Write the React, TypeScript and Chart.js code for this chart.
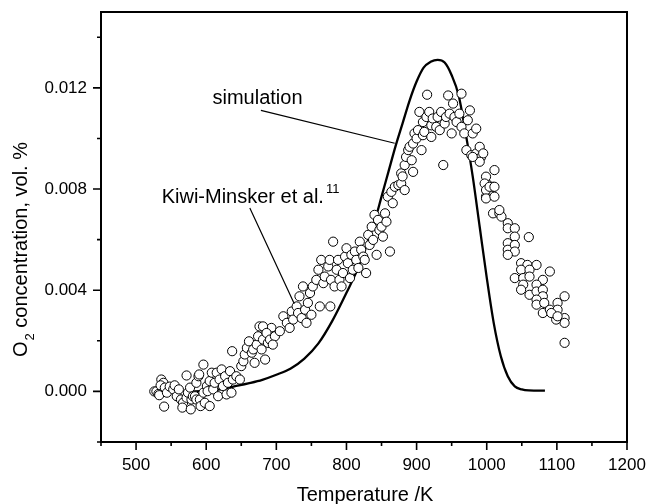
import React, { useEffect, useRef } from "react";
import { Chart, registerables } from "chart.js";

Chart.register(...registerables);

const FONT = '"Liberation Sans", Arial, Helvetica, sans-serif';

// Axis ranges and tick labels
const X_MIN = 450;
const X_MAX = 1200;
const Y_MIN = -0.002;
const Y_MAX = 0.015;
const xTickLabels = [500, 600, 700, 800, 900, 1000, 1100, 1200];
const yTickLabels = [0, 0.004, 0.008, 0.012];

// Experimental data (Kiwi-Minsker et al.) — temperature /K
const expT = [
  526, 529, 532, 533, 536, 539, 535, 541, 544, 540, 548, 553, 555, 558, 561, 564, 567, 566, 572, 572,
  574, 577, 578, 579, 581, 584, 586, 586, 589, 590, 591, 592, 596, 596, 598, 601, 602, 605, 605, 608,
  610, 612, 615, 617, 619, 622, 624, 627, 629, 631, 634, 636, 638, 637, 643, 648, 650, 653, 655, 658,
  661, 665, 667, 669, 672, 674, 676, 679, 681, 684, 686, 688, 693, 695,
  681, 686, 691, 698, 695, 705, 710, 715, 719, 722, 724, 729, 731, 733, 736, 738, 741, 743, 745, 748,
  750, 752, 757, 760, 762, 764, 767, 769, 774, 776, 777, 778, 781, 783, 786, 788, 790, 793, 795, 798,
  800, 802, 805, 807, 809, 812, 814, 817, 819, 821, 824, 826, 828, 831, 833, 836, 838, 840, 843, 845,
  847, 850, 852, 855, 857, 862, 859, 864, 866, 869, 874, 878, 883, 878, 883, 880,
  885, 888, 890, 893, 895, 895, 897, 900, 902, 904, 907, 909, 909, 911, 914, 915, 918, 921, 921, 923,
  928, 930, 933, 935, 938, 940, 942, 945, 947, 950, 952, 954, 957, 961, 964, 964, 968, 971, 973, 976,
  978, 980, 985, 985, 990, 992, 995, 990, 999, 1002, 1004, 1009, 999, 1011, 1009, 1018,
  980, 997, 999, 1004, 1011, 999, 1011, 1021, 1030, 1030, 1040, 1040, 1030, 1030, 1040, 1040, 1030, 1060,
  1049, 1058, 1071, 1049, 1061, 1090, 1040, 1052, 1061, 1080, 1052, 1071, 1049, 1061, 1071, 1080, 1080,
  1071, 1071, 1082, 1080, 1090, 1101, 1111, 1101, 1111, 1111, 1099, 1092, 1111, 1101, 1018,
];

// Experimental O2 concentration, vol. %
const expO2 = [
  0.0, 0.0, -0.0001, -0.00015, 0.00047, 0.00034, 0.00024, 0.00015, -0.00005, -0.0006, 0.00019, 0.00008, 0.00024, -0.00019, 0.00008, -0.00032, -0.00045, -0.00064, 0.00063, -0.00025,
  -0.00005, 0.00015, -0.00071, -0.00032, -0.00019, -0.00019, 0.00034, -0.00032, 0.0006, 0.00067, -0.00032, -0.00058, 0.00106, -0.00005, -0.00045, 0.00021, 0.00001, -0.00058, 0.00041, 0.00074,
  0.00008, 0.00034, 0.00074, -0.00019, 0.00047, 0.00087, 0.00021, 0.0006, -0.00012, 0.00034, 0.0008, -0.00005, 0.00047, 0.00159, 0.0006, 0.00047, 0.001, 0.00119, 0.00146, 0.00172,
  0.00198, 0.00153, 0.00166, 0.00113, 0.00185, 0.00218, 0.00257, 0.00166, 0.00205, 0.00126, 0.00238, 0.00192, 0.00251, 0.00218,
  0.00257, 0.00231, 0.00205, 0.00218, 0.00185, 0.00238, 0.00297, 0.00271, 0.00251, 0.00316, 0.00284, 0.00336, 0.0031, 0.00376, 0.0029, 0.00415, 0.00323, 0.00271, 0.0035, 0.00389,
  0.00303, 0.00415, 0.00441, 0.00481, 0.00336, 0.0052, 0.00428, 0.00454, 0.00494, 0.0052, 0.00336, 0.00441, 0.00592, 0.00415, 0.00481, 0.0052, 0.00441, 0.00415, 0.00468, 0.00533,
  0.00566, 0.00507, 0.00448, 0.0054, 0.00481, 0.00553, 0.0052, 0.00488, 0.00592, 0.0056, 0.00533, 0.0052, 0.00468, 0.00619, 0.00579, 0.00651, 0.00599, 0.00698, 0.0054, 0.00678,
  0.00638, 0.00651, 0.00612, 0.00704, 0.00671, 0.00553, 0.0077, 0.00789, 0.00744, 0.00809, 0.00816, 0.00822, 0.00796, 0.00862, 0.00895, 0.0085,
  0.00927, 0.00954, 0.00967, 0.00914, 0.00868, 0.0098, 0.0102, 0.01, 0.01033, 0.01105, 0.00954, 0.01065, 0.01013, 0.01026, 0.01085, 0.01173, 0.01105, 0.01052, 0.01006, 0.01079,
  0.01046, 0.01085, 0.01033, 0.01105, 0.00895, 0.01059, 0.01085, 0.0117, 0.01098, 0.0102, 0.01138, 0.01085, 0.01065, 0.01098, 0.01177, 0.01046, 0.0102, 0.00954, 0.01072, 0.01111,
  0.00934, 0.0102, 0.01039, 0.00941, 0.00967, 0.00927, 0.00941, 0.00908, 0.00849, 0.00816, 0.00796, 0.00809, 0.0077, 0.00875, 0.00704, 0.00704,
  0.00927, 0.00822, 0.00796, 0.00809, 0.00809, 0.00763, 0.0077, 0.00691, 0.00665, 0.00645, 0.00645, 0.00612, 0.00586, 0.0056, 0.00579, 0.00553, 0.0054, 0.0061,
  0.00507, 0.005, 0.005, 0.00481, 0.00481, 0.00474, 0.00448, 0.00448, 0.00454, 0.00441, 0.00422, 0.00422, 0.00402, 0.00382, 0.00395, 0.00402, 0.00376,
  0.00363, 0.00343, 0.0035, 0.0031, 0.00323, 0.0035, 0.00376, 0.00323, 0.0029, 0.00271, 0.00284, 0.0031, 0.00192, 0.00297, 0.00717,
];

// Simulation curve
const simT = [
  575, 600, 620, 640, 660, 680, 700, 720, 740, 760, 780, 800, 820, 830, 840, 850, 860, 870, 880, 890,
  900, 910, 920, 930, 940, 950, 960, 970, 980, 990, 1000, 1010, 1020, 1030, 1040, 1050, 1060, 1083,
];
const simO2 = [
  0.0, 0.00002, 0.00008, 0.0002, 0.00032, 0.00046, 0.00066, 0.0009, 0.0013, 0.0019, 0.0028, 0.0039, 0.0051, 0.0059, 0.0067, 0.0077, 0.0087, 0.0097, 0.0106, 0.0115,
  0.01225, 0.0128, 0.01303, 0.01311, 0.013, 0.0125, 0.0117, 0.0102, 0.0085, 0.0065, 0.0045, 0.0027, 0.0014, 0.0006, 0.0002, 0.00008, 0.00004, 0.00003,
];

// Annotation anchors (data coordinates)
const simLabel = { text: "simulation", x: 609, y: 0.01137 };
const simLeader = [[678, 0.01111], [868.8, 0.00981]];
const kiwiLabel = { text: "Kiwi-Minsker et al.", sup: "11", x: 536.5, y: 0.00744 };
const kiwiLeader = [[662.2, 0.00725], [725.6, 0.00347]];

const zeroPadding = (s: any) => {
  s.paddingLeft = 0;
  s.paddingRight = 0;
  s.paddingTop = 0;
  s.paddingBottom = 0;
};

const decorPlugin = {
  id: "decor",
  afterDraw(chart: any) {
    const { ctx, chartArea: a } = chart;
    const xs = chart.scales.x;
    const ys = chart.scales.y;
    ctx.save();
    ctx.strokeStyle = "#000";
    ctx.fillStyle = "#000";

    // frame
    ctx.lineWidth = 2;
    ctx.strokeRect(a.left, a.top, a.right - a.left, a.bottom - a.top);

    // ticks
    ctx.lineWidth = 1.6;
    ctx.beginPath();
    for (let i = 0; i <= 15; i++) {
      const v = X_MIN + i * 50;
      const px = xs.getPixelForValue(v);
      const len = v % 100 === 0 ? 8 : 4;
      ctx.moveTo(px, a.bottom);
      ctx.lineTo(px, a.bottom + len);
    }
    for (let i = -1; i <= 7; i++) {
      const v = i * 0.002;
      const py = ys.getPixelForValue(v);
      const len = i % 2 === 0 ? 8 : 4;
      ctx.moveTo(a.left, py);
      ctx.lineTo(a.left - len, py);
    }
    ctx.stroke();

    // leader lines
    ctx.lineWidth = 1.2;
    ctx.beginPath();
    for (const ld of [simLeader, kiwiLeader]) {
      ctx.moveTo(xs.getPixelForValue(ld[0][0]), ys.getPixelForValue(ld[0][1]));
      ctx.lineTo(xs.getPixelForValue(ld[1][0]), ys.getPixelForValue(ld[1][1]));
    }
    ctx.stroke();

    // annotation texts
    ctx.textBaseline = "alphabetic";
    ctx.textAlign = "left";
    ctx.font = `20px ${FONT}`;
    ctx.fillText(simLabel.text, xs.getPixelForValue(simLabel.x), ys.getPixelForValue(simLabel.y));
    const kx = xs.getPixelForValue(kiwiLabel.x);
    const ky = ys.getPixelForValue(kiwiLabel.y);
    ctx.fillText(kiwiLabel.text, kx, ky);
    const kw = ctx.measureText(kiwiLabel.text).width;
    ctx.font = `13px ${FONT}`;
    ctx.fillText(kiwiLabel.sup, kx + kw + 2, ky - 10.5);

    // x axis title
    ctx.font = `20px ${FONT}`;
    ctx.textAlign = "center";
    ctx.textBaseline = "middle";
    ctx.fillText("Temperature /K", (a.left + a.right) / 2 + 1, 495);

    // y axis title
    ctx.translate(27, 357);
    ctx.rotate(-Math.PI / 2);
    ctx.textAlign = "left";
    ctx.textBaseline = "alphabetic";
    ctx.font = `20px ${FONT}`;
    ctx.fillText("O", 0, 0);
    let w = ctx.measureText("O").width;
    ctx.font = `13px ${FONT}`;
    ctx.fillText("2", w + 1, 7);
    w += 1 + ctx.measureText("2").width;
    ctx.font = `20px ${FONT}`;
    ctx.fillText(" concentration, vol. %", w, 0);

    ctx.restore();
  },
};

export default function App() {
  const ref = useRef<HTMLCanvasElement | null>(null);

  useEffect(() => {
    if (!ref.current) return;
    const chart = new Chart(ref.current, {
      type: "scatter",
      data: {
        datasets: [
          {
            label: "Kiwi-Minsker et al.",
            data: expT.map((t, i) => ({ x: t, y: expO2[i] })),
            pointRadius: 4.6,
            pointStyle: "circle",
            pointBackgroundColor: "#ffffff",
            pointBorderColor: "#000000",
            pointBorderWidth: 1,
            showLine: false,
            order: 0,
          } as any,
          {
            label: "simulation",
            type: "line",
            data: simT.map((t, i) => ({ x: t, y: simO2[i] })),
            borderColor: "#000000",
            borderWidth: 2.3,
            pointRadius: 0,
            showLine: true,
            fill: false,
            cubicInterpolationMode: "monotone",
            order: 1,
          } as any,
        ],
      },
      options: {
        responsive: false,
        animation: false,
        devicePixelRatio: 1,
        layout: { autoPadding: false, padding: { top: 12, right: 20, left: 0, bottom: 0 } },
        plugins: {
          legend: { display: false },
          tooltip: { enabled: false },
        },
        scales: {
          x: {
            type: "linear",
            min: X_MIN,
            max: X_MAX,
            grid: { display: false, drawTicks: false },
            border: { display: false },
            afterBuildTicks: (s: any) => {
              s.ticks = xTickLabels.map((v) => ({ value: v }));
            },
            afterFit: (s: any) => {
              s.height = 62;
              zeroPadding(s);
            },
            ticks: {
              color: "#000",
              padding: 13,
              maxRotation: 0,
              autoSkip: false,
              font: { family: FONT, size: 17 },
              callback: (v: any) => String(v),
            },
          },
          y: {
            type: "linear",
            min: Y_MIN,
            max: Y_MAX,
            grid: { display: false, drawTicks: false },
            border: { display: false },
            afterBuildTicks: (s: any) => {
              s.ticks = yTickLabels.map((v) => ({ value: v }));
            },
            afterFit: (s: any) => {
              s.width = 101;
              zeroPadding(s);
            },
            ticks: {
              color: "#000",
              padding: 14,
              autoSkip: false,
              font: { family: FONT, size: 17 },
              callback: (v: any) => Number(v).toFixed(3),
            },
          },
        },
      },
      plugins: [decorPlugin],
    });
    return () => chart.destroy();
  }, []);

  return (
    <div style={{ position: "absolute", left: 0, top: 0, width: 647, height: 504, background: "#fff" }}>
      <canvas ref={ref} width={647} height={504} style={{ width: 647, height: 504, display: "block" }} />
    </div>
  );
}
